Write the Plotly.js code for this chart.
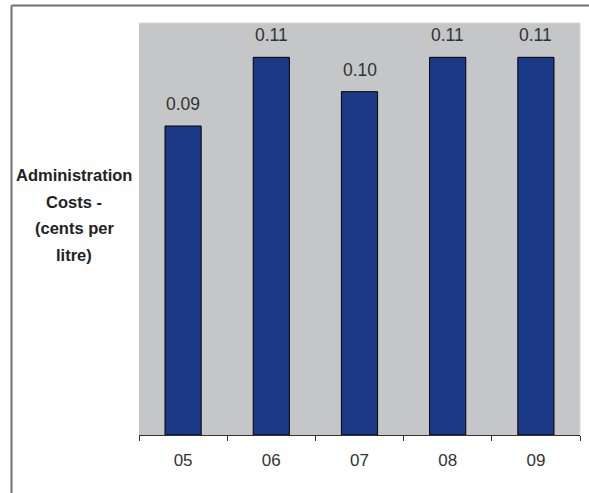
<!DOCTYPE html>
<html>
<head>
<meta charset="utf-8">
<script src="https://cdn.plot.ly/plotly-3.0.1.min.js"></script>
<style>
  html, body { margin: 0; padding: 0; background: #ffffff; }
  #chart { width: 589px; height: 493px; }
</style>
</head>
<body>
<div id="chart"></div>
<script>
// Administration costs per litre, by year
const years = ['05', '06', '07', '08', '09'];
const costs = [0.09, 0.11, 0.10, 0.11, 0.11];
const valueLabels = ['0.09', '0.11', '0.10', '0.11', '0.11'];
const titleLines = ['Administration', 'Costs -', '(cents per', 'litre)'];

const W = 589, H = 493;
const margin = { l: 139, r: 9, t: 23, b: 58, pad: 0 };
const plotH = H - margin.t - margin.b;
const plotW = W - margin.l - margin.r;
const FONT = 'Liberation Sans, Arial, sans-serif';

const bars = {
  type: 'bar',
  x: years,
  y: costs,
  width: 0.41,
  marker: { color: '#1b3987', line: { color: '#000000', width: 1 } },
  hoverinfo: 'skip'
};

// value labels sitting above each bar (x given as category index)
const valueNotes = years.map((yr, i) => ({
  x: i, y: costs[i], xref: 'x', yref: 'y',
  text: valueLabels[i], showarrow: false,
  yanchor: 'bottom', yshift: 10,
  font: { family: FONT, size: 17.5, color: '#333333' }
}));

// left-side axis caption, one line per annotation for wider line spacing
const titleCenterX = 74;
const titleFirstY = 175;
const titleStep = 26.7;
const titleNotes = titleLines.map((line, i) => ({
  xref: 'paper', yref: 'paper',
  x: (titleCenterX - margin.l) / plotW,
  y: (H - margin.b - (titleFirstY + i * titleStep)) / plotH,
  xanchor: 'center', yanchor: 'middle',
  text: line, showarrow: false,
  font: { family: FONT, size: 16.5, color: '#222222', weight: 'bold' }
}));

// outer frame: top and left edges
const frameShapes = [
  { type: 'line', xref: 'paper', yref: 'paper',
    x0: (11.5 - margin.l) / plotW, x1: (W + 5 - margin.l) / plotW,
    y0: (H - margin.b - 5.5) / plotH, y1: (H - margin.b - 5.5) / plotH,
    line: { color: '#707070', width: 2 } },
  { type: 'line', xref: 'paper', yref: 'paper',
    x0: (11.5 - margin.l) / plotW, x1: (11.5 - margin.l) / plotW,
    y0: (H - margin.b - 5.5) / plotH, y1: (H - margin.b - H - 5) / plotH,
    line: { color: '#707070', width: 2 } },
  // faint edge around the plotting area (top and right)
  { type: 'line', xref: 'paper', yref: 'paper', x0: 0, x1: 1, y0: 1, y1: 1,
    line: { color: '#d6d7d9', width: 1 }, layer: 'above' },
  { type: 'line', xref: 'paper', yref: 'paper', x0: 1, x1: 1, y0: 0, y1: 1,
    line: { color: '#d6d7d9', width: 1 }, layer: 'above' }
];

const layout = {
  width: W, height: H,
  margin: margin,
  paper_bgcolor: '#ffffff',
  plot_bgcolor: '#c5c6c8',
  showlegend: false,
  font: { family: FONT, size: 14, color: '#333333' },
  xaxis: {
    type: 'category',
    range: [-0.5, years.length - 0.5],
    tickson: 'boundaries',
    ticks: 'outside', ticklen: 5, tickcolor: '#333333', tickwidth: 1,
    showline: true, linecolor: '#333333', linewidth: 1,
    showgrid: false, zeroline: false,
    tickfont: { size: 17, color: '#333333' },
    ticklabelstandoff: 10,
    fixedrange: true
  },
  yaxis: {
    range: [0, 0.12],
    visible: false, showgrid: false, zeroline: false, fixedrange: true
  },
  annotations: valueNotes.concat(titleNotes),
  shapes: frameShapes
};

Plotly.newPlot('chart', [bars], layout, { staticPlot: true, displayModeBar: false });
</script>
</body>
</html>
